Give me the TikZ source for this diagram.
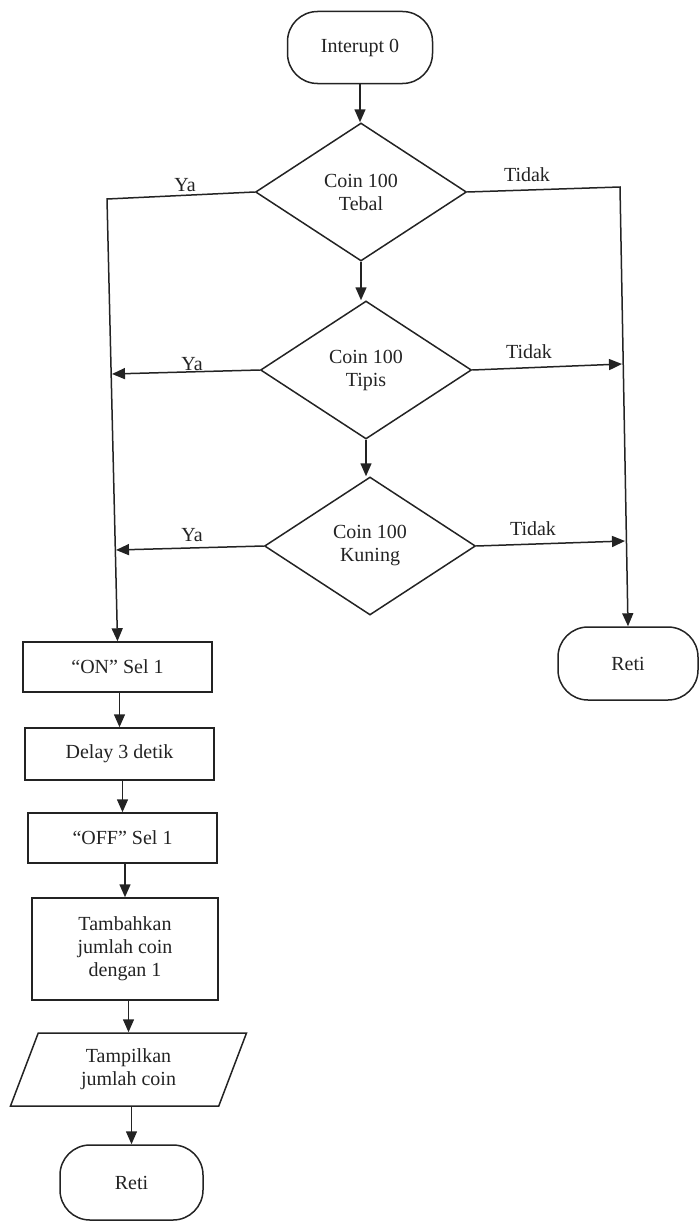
\documentclass[tikz,border=0pt]{standalone}
\usepackage{fontspec}
\setmainfont{Liberation Serif}
\usetikzlibrary{shapes.geometric,arrows.meta}
\definecolor{ink}{RGB}{35,35,35}
\begin{document}
\begin{tikzpicture}[x=1pt,y=-1pt,
  every node/.style={font=\fontsize{20}{23}\selectfont, text=ink},
  line/.style={draw=ink, line width=1.5pt},
  arr/.style={line, -{Triangle[length=13pt,width=11pt]}},
  term/.style={line, rectangle, rounded corners=30pt, minimum width=145pt, minimum height=72pt, inner sep=0pt},
  proc/.style={line, rectangle, minimum width=189pt, minimum height=50pt, inner sep=0pt, align=center},
  dec/.style={line, diamond, minimum width=211pt, minimum height=138pt, inner sep=0pt, align=center},
  io/.style={line, trapezium, trapezium left angle=56, trapezium right angle=124, trapezium stretches body, minimum width=236pt, minimum height=73pt, inner sep=0pt, align=center},
  lbl/.style={inner sep=0pt}
]
\useasboundingbox (0,0) rectangle (699,1223);
\node[term] (int) at (360,47.5) {Interupt 0};
\node[dec] (d1) at (361,192) {Coin 100\\Tebal};
\node[dec] (d2) at (366,370) {Coin 100\\Tipis};
\node[dec] (d3) at (370,546) {Coin 100\\Kuning};
\node[term, minimum width=140pt, minimum height=73pt] (r2) at (628,663.5) {Reti};
\node[proc] (on) at (117.5,667) {“ON” Sel 1};
\node[proc, minimum height=52pt] (dl) at (119.5,754) {Delay 3 detik};
\node[proc] (off) at (122.5,838) {“OFF” Sel 1};
\node[proc, minimum height=102pt, minimum width=186pt] (tb) at (125,949) {Tambahkan\\jumlah coin\\dengan 1};
\node[io] (tp) at (128.5,1069.5) {Tampilkan\\jumlah coin};
\node[term, minimum width=143pt, minimum height=75pt] (r1) at (131.5,1182.5) {Reti};

\coordinate (lc) at (107,199);
\coordinate (rc) at (620,187);
\coordinate (y2) at (112,374);
\coordinate (y3) at (116,550);
\coordinate (t2) at (622,364);
\coordinate (t3) at (625,541);

\draw[arr] (int.south) -- (int.south |- d1.north);
\draw[arr] (d1.south) -- (d1.south |- d2.north);
\draw[arr] (d2.south) -- (d2.south |- d3.north);
\draw[arr] (d1.west) -- (lc) -- (on.north);
\draw[arr] (d1.east) -- (rc) -- (r2.north);
\draw[arr] (d2.west) -- (y2);
\draw[arr] (d2.east) -- (t2);
\draw[arr] (d3.west) -- (y3);
\draw[arr] (d3.east) -- (t3);
\draw[arr] (dl.north |- on.south) -- (dl.north);
\draw[arr] (off.north |- dl.south) -- (off.north);
\draw[arr] (tb.north |- off.south) -- (tb.north);
\draw[arr] (tp.north |- tb.south) -- (tp.north);
\draw[arr] (r1.north |- tp.south) -- (r1.north);

\node[lbl] (ya1) at (185,185) {Ya};
\node[lbl] (ya2) at (192,364) {Ya};
\node[lbl] (ya3) at (192,535) {Ya};
\node[lbl] (td1) at (527,175) {Tidak};
\node[lbl] (td2) at (529,352) {Tidak};
\node[lbl] (td3) at (533,529) {Tidak};
\end{tikzpicture}
\end{document}
